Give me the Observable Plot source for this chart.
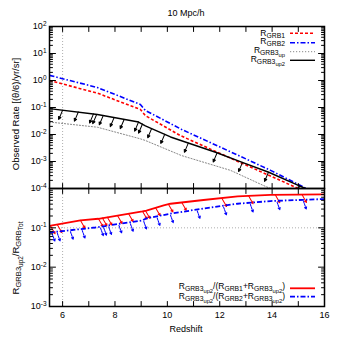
<!DOCTYPE html>
<html><head><meta charset="utf-8">
<script src="https://cdn.jsdelivr.net/npm/d3@7"></script>
<script src="https://cdn.jsdelivr.net/npm/@observablehq/plot@0.6"></script>
<style>
body{margin:0;background:#fff;}
#wrap{position:relative;width:338px;height:346px;overflow:hidden;}
#wrap svg{position:absolute;left:0;overflow:visible;background:transparent;}
</style></head><body><div id="wrap"></div>
<script>
// ---------- data ----------
// Top panel: observed rates vs redshift
const zGRB1 = [5.5, 7.33, 8.97, 9.16, 10.5, 12.79, 13.94, 15.0];
const rateGRB1 = [1.0, 0.34, 0.085, 0.050, 0.0091, 0.00091, 0.00029, 0.0001];
const zGRB2 = [5.5, 7.33, 8.97, 9.16, 10.54, 12.79, 13.94, 15.31];
const rateGRB2 = [1.55, 0.55, 0.129, 0.078, 0.0155, 0.00155, 0.00047, 0.0001];
const zGRB3up = [5.5, 7.33, 8.97, 9.16, 10.54, 12.41, 13.67, 13.94];
const rateGRB3up = [0.029, 0.0186, 0.0069, 0.006, 0.00166, 0.00047, 0.000129, 0.0001];
const zGRB3up2 = [5.5, 7.33, 8.9, 9.16, 10.12, 11.84, 12.86, 13.87, 15.0, 15.27];
const rateGRB3up2 = [0.091, 0.055, 0.029, 0.021, 0.0081, 0.0022, 0.00093, 0.0004, 0.00013, 0.0001];
// upper-limit arrows on R_GRB3up2
const zLimitArrows = [6.0, 6.6, 7.18, 7.3, 7.55, 7.97, 8.35, 8.9, 9.05, 9.4, 9.9, 10.8, 11.9, 12.87, 13.86, 15.05];
const rateLimitArrows = [0.079, 0.068, 0.058, 0.055, 0.050, 0.043, 0.036, 0.029, 0.0245, 0.0166, 0.0102, 0.0048, 0.0021, 0.00093, 0.0004, 0.000123];
// Bottom panel: ratios
const zRatio1 = [5.5, 6.68, 7.37, 9.05, 9.2, 9.86, 10.12, 11.38, 12.68, 13.94, 16];
const ratio1 = [0.112, 0.155, 0.17, 0.263, 0.275, 0.37, 0.41, 0.51, 0.63, 0.69, 0.71];
const zRatio2 = [5.5, 7.25, 9.05, 9.2, 10.12, 11.38, 12.68, 13.94, 16];
const ratio2 = [0.076, 0.102, 0.155, 0.174, 0.229, 0.31, 0.41, 0.48, 0.54];
const zRatio1Arrows = [5.54, 5.8, 6.68, 7.37, 7.52, 7.71, 8.1, 8.52, 9.05, 9.16, 9.55, 10.04, 10.55, 12.09, 13.1, 14.12, 15.14];
const ratio1Arrows = [0.112, 0.12, 0.155, 0.17, 0.178, 0.186, 0.204, 0.229, 0.263, 0.275, 0.324, 0.40, 0.44, 0.55, 0.65, 0.69, 0.70];
const zRatio2Arrows = [5.6, 5.8, 6.3, 6.75, 7.45, 7.57, 7.76, 8.15, 8.59, 9.1, 9.61, 10.12, 11.14, 12.15, 13.17, 14.19, 15.2];
const ratio2Arrows = [0.078, 0.079, 0.087, 0.093, 0.107, 0.11, 0.115, 0.126, 0.138, 0.158, 0.195, 0.229, 0.295, 0.363, 0.427, 0.49, 0.51];
// ticks
const xLabelTicks = [6, 8, 10, 12, 14, 16];
const xMinorTicks = [6, 7, 8, 9, 10, 11, 12, 13, 14, 15];
const topExponents = [-4, -3, -2, -1, 0, 1, 2];
const bottomExponents = [-3, -2, -1, 0];
const bottomLabelExponents = [-3, -2, -1];
const titleText = "10 Mpc/h";
const xLabelText = "Redshift";
const yLabelTop = "Observed Rate [(θ/6)/yr/sr]";

// ---------- helpers ----------
const FONT = "'Liberation Sans', Arial, Helvetica, sans-serif";
const RED = "#ff0000", BLUE = "#0000ff", GREY = "#999999";
const DASH_RED = "3,2", DASH_BLUE = "5,2,1.5,2", DOT_GREY = "1.2,1.8";
const pts = (xs, ys) => xs.map((x, i) => ({x, y: ys[i]}));
const tickShape = {draw(ctx, l) { ctx.moveTo(0, 0); ctx.lineTo(0, -l); }};
const filledArrow = {draw(ctx, l) { const h = 2.6, w = 1.3; ctx.moveTo(0, 0); ctx.lineTo(0, -l + h); ctx.moveTo(-w, -l + h); ctx.lineTo(0, -l); ctx.lineTo(w, -l + h); ctx.closePath(); }};
const openArrow = {draw(ctx, l) { const h = 2, w = 1.1; ctx.moveTo(0, 0); ctx.lineTo(0, -l); ctx.moveTo(-w, -l + h); ctx.lineTo(0, -l); ctx.lineTo(w, -l + h); }};
const minorLog = (e0, e1) => { const a = []; for (let e = e0; e < e1; e++) for (let m = 2; m < 10; m++) a.push(m * Math.pow(10, e)); return a; };
const majorsOf = exps => exps.map(e => Math.pow(10, e));

function frameTicks(xVals, yMajor, yMinor) {
  const common = {anchor: "start", shape: tickShape, stroke: "black", strokeWidth: 1};
  return [
    Plot.vector(yMajor, {...common, y: d => d, frameAnchor: "left", rotate: 90, length: 6}),
    Plot.vector(yMajor, {...common, y: d => d, frameAnchor: "right", rotate: -90, length: 6}),
    Plot.vector(yMinor, {...common, y: d => d, frameAnchor: "left", rotate: 90, length: 3}),
    Plot.vector(yMinor, {...common, y: d => d, frameAnchor: "right", rotate: -90, length: 3}),
    Plot.vector(xVals, {...common, x: d => d, frameAnchor: "bottom", rotate: 0, length: 5}),
    Plot.vector(xVals, {...common, x: d => d, frameAnchor: "top", rotate: 180, length: 5})
  ];
}
function superscriptLabels(svg) {
  d3.select(svg).selectAll('g[aria-label="y-axis tick label"] text').each(function () {
    const s = this.textContent; const [b, e] = s.split("^");
    const t = d3.select(this); t.text("");
    t.append("tspan").text(b);
    t.append("tspan").attr("font-size", 6.5).attr("dy", -3.5).text(e);
  });
}
function rich(sel, parts, size) {
  const sizes = [size, size * 0.8, size * 0.68];
  const shifts = [0, 2.2, 4];
  let prev = 0;
  for (const [t, lvl] of parts) {
    sel.append("tspan").attr("font-size", sizes[lvl]).attr("dy", shifts[lvl] - shifts[prev]).text(t);
    prev = lvl;
  }
}

// ---------- top panel ----------
const topPlot = Plot.plot({
  width: 338, height: 196,
  marginLeft: 49, marginRight: 14, marginTop: 26, marginBottom: 8,
  style: {fontFamily: FONT, fontSize: "9px", background: "transparent", overflow: "visible", color: "black"},
  x: {type: "linear", domain: [5.5, 16], axis: null},
  y: {type: "log", domain: [1e-4, 1e2]},
  marks: [
    Plot.ruleX([6], {stroke: GREY, strokeWidth: 0.8, strokeDasharray: "1,2"}),
    Plot.line(pts(zGRB3up, rateGRB3up), {x: "x", y: "y", stroke: "#888", strokeWidth: 1, strokeDasharray: DOT_GREY, clip: true}),
    Plot.line(pts(zGRB1, rateGRB1), {x: "x", y: "y", stroke: RED, strokeWidth: 1.6, strokeDasharray: DASH_RED, strokeLinecap: "butt", clip: true}),
    Plot.line(pts(zGRB2, rateGRB2), {x: "x", y: "y", stroke: BLUE, strokeWidth: 1.6, strokeDasharray: DASH_BLUE, strokeLinecap: "butt", clip: true}),
    Plot.line(pts(zGRB3up2, rateGRB3up2), {x: "x", y: "y", stroke: "black", strokeWidth: 1.4, clip: true}),
    Plot.vector(pts(zLimitArrows, rateLimitArrows), {x: "x", y: "y", anchor: "start", length: 10, rotate: 203, shape: filledArrow, stroke: "black", fill: "black", strokeWidth: 1, clip: true}),
    ...frameTicks(xMinorTicks, majorsOf(topExponents), minorLog(-4, 2)),
    Plot.frame({stroke: "black", strokeWidth: 1.5}),
    Plot.axisY({ticks: majorsOf(topExponents), tickSize: 0, tickPadding: 3, label: null, fontSize: 9,
      tickFormat: d => `10^${Math.round(Math.log10(d))}`})
  ]
});
superscriptLabels(topPlot);
topPlot.style.top = "0px";

// ---------- bottom panel ----------
const bottomPlot = Plot.plot({
  width: 338, height: 158,
  marginLeft: 49, marginRight: 14, marginTop: 0, marginBottom: 40,
  style: {fontFamily: FONT, fontSize: "9px", background: "transparent", overflow: "visible", color: "black"},
  x: {type: "linear", domain: [5.5, 16]},
  y: {type: "log", domain: [1e-3, 1]},
  marks: [
    Plot.ruleX([6], {stroke: GREY, strokeWidth: 0.8, strokeDasharray: "1,2"}),
    Plot.ruleY([0.1], {stroke: GREY, strokeWidth: 0.8, strokeDasharray: "1,2"}),
    Plot.vector(pts(zRatio2Arrows, ratio2Arrows), {x: "x", y: "y", dy: 1.5, anchor: "start", length: 8, rotate: 160, shape: openArrow, stroke: BLUE, strokeWidth: 1, strokeDasharray: "2,1", clip: true}),
    Plot.vector(pts(zRatio1Arrows, ratio1Arrows), {x: "x", y: "y", anchor: "start", length: 9, rotate: 150, shape: openArrow, stroke: RED, strokeWidth: 1, clip: true}),
    Plot.line(pts(zRatio2, ratio2), {x: "x", y: "y", stroke: BLUE, strokeWidth: 1.8, strokeDasharray: DASH_BLUE, strokeLinecap: "butt", clip: true}),
    Plot.line(pts(zRatio1, ratio1), {x: "x", y: "y", stroke: RED, strokeWidth: 1.8, clip: true}),
    ...frameTicks(xMinorTicks, majorsOf(bottomExponents), minorLog(-3, 0)),
    Plot.frame({stroke: "black", strokeWidth: 1.5}),
    Plot.axisY({ticks: majorsOf(bottomLabelExponents), tickSize: 0, tickPadding: 3, label: null, fontSize: 9,
      tickFormat: d => `10^${Math.round(Math.log10(d))}`}),
    Plot.axisX({ticks: xLabelTicks, tickSize: 0, tickPadding: 5, label: null, fontSize: 9})
  ]
});
superscriptLabels(bottomPlot);
bottomPlot.style.top = "188px";

const wrap = document.getElementById("wrap");
wrap.append(topPlot, bottomPlot);

// ---------- overlay: title, axis titles, legends ----------
const ov = d3.select(wrap).append("svg").attr("width", 338).attr("height", 346)
  .style("top", "0px").style("pointer-events", "none")
  .attr("font-family", FONT).attr("font-size", 9).attr("fill", "black");

ov.append("text").attr("x", 186).attr("y", 16).attr("text-anchor", "middle").text(titleText);
ov.append("text").attr("x", 186).attr("y", 332).attr("text-anchor", "middle").text(xLabelText);
ov.append("text").attr("transform", "translate(19,114) rotate(-90)").attr("text-anchor", "middle").attr("font-size", 9.5).text(yLabelTop);
rich(ov.append("text").attr("transform", "translate(19,258) rotate(-90)").attr("text-anchor", "middle"),
  [["R", 0], ["GRB3", 1], ["up2", 2], ["/R", 0], ["GRB", 1], ["Tot", 2]], 9.5);

const topLegend = [
  {parts: [["R", 0], ["GRB1", 1]], base: 35.5, ly: 33.3, stroke: RED, w: 1.6, dash: DASH_RED},
  {parts: [["R", 0], ["GRB2", 1]], base: 44, ly: 42.7, stroke: BLUE, w: 1.6, dash: DASH_BLUE},
  {parts: [["R", 0], ["GRB3", 1], ["up", 2]], base: 53, ly: 51.7, stroke: "#888", w: 1, dash: DOT_GREY},
  {parts: [["R", 0], ["GRB3", 1], ["up2", 2]], base: 61.5, ly: 60.3, stroke: "black", w: 1.4, dash: null}
];
const bottomLegend = [
  {parts: [["R", 0], ["GRB3", 1], ["up2", 2], ["/(R", 0], ["GRB1", 1], ["+R", 0], ["GRB3", 1], ["up2", 2], [")", 0]], base: 289, ly: 288.3, stroke: RED, w: 1.8, dash: null},
  {parts: [["R", 0], ["GRB3", 1], ["up2", 2], ["/(R", 0], ["GRB2", 1], ["+R", 0], ["GRB3", 1], ["up2", 2], [")", 0]], base: 298.5, ly: 296.7, stroke: BLUE, w: 1.8, dash: DASH_BLUE}
];
for (const e of [...topLegend, ...bottomLegend]) {
  rich(ov.append("text").attr("x", 285).attr("y", e.base).attr("text-anchor", "end"), e.parts, 8.5);
  const ln = ov.append("line").attr("x1", 290).attr("x2", 315).attr("y1", e.ly).attr("y2", e.ly)
    .attr("stroke", e.stroke).attr("stroke-width", e.w);
  if (e.dash) ln.attr("stroke-dasharray", e.dash);
}
</script>
</body></html>
